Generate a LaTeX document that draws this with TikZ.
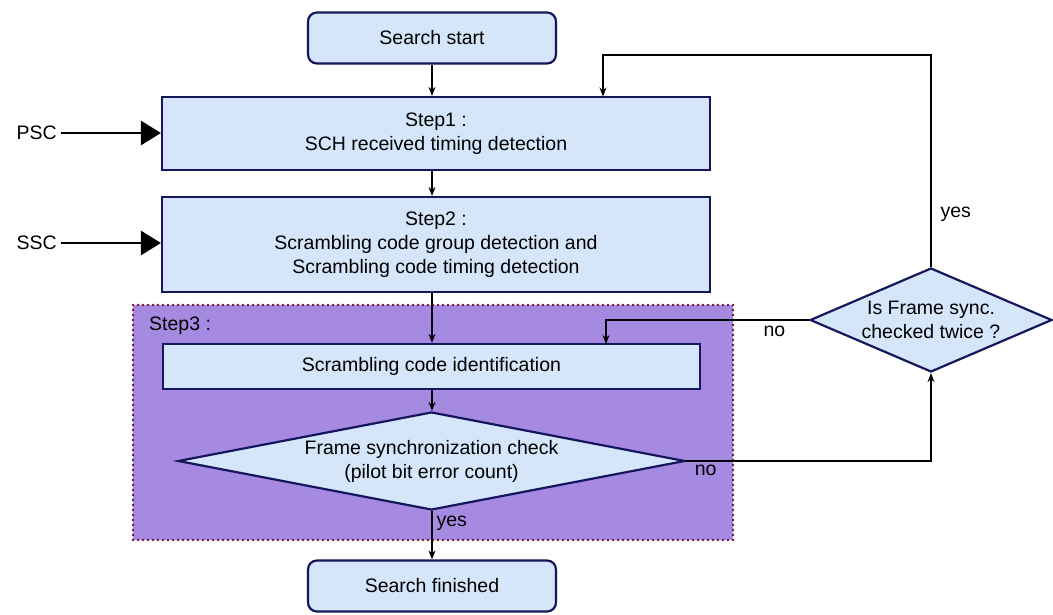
\documentclass[tikz,border=0pt]{standalone}
\usepackage{fontspec}
\setmainfont{Liberation Sans}
\usetikzlibrary{shapes.geometric,arrows.meta}
\definecolor{boxfill}{RGB}{214,230,250}
\definecolor{boxline}{RGB}{22,22,92}
\definecolor{stepfill}{RGB}{166,138,226}
\definecolor{stepline}{RGB}{110,15,55}
\begin{document}
\begin{tikzpicture}[x=1pt, y=-1pt,
        font=\fontsize{19.5}{24}\selectfont,
        process/.style={rectangle, draw=boxline, fill=boxfill, line width=2.2pt, align=center, inner sep=0pt},
        terminal/.style={process, rounded corners=9pt, minimum width=248pt, minimum height=51pt},
        decision/.style={diamond, draw=boxline, fill=boxfill, line width=2.2pt, align=center, inner sep=0pt},
        arrow/.style={-{Stealth[length=9pt,width=7pt]}, line width=1.2pt},
        input/.style={-{Triangle[length=20pt,width=24pt]}, line width=2.8pt},
        label/.style={inner sep=1pt}
    ]
        \useasboundingbox (0,0) rectangle (1053,615);

        % Step3 area
        \draw[stepline, fill=stepfill, line width=2.8pt, line cap=round, dash pattern=on 0pt off 5pt] (133,305) rectangle (733,540);
        \node[label, anchor=west] (step3) at (148,326) {Step3 :};

        % Search start / finished
        \node[terminal] (start) at (432,38) {Search start};
        \node[terminal] (finish) at (432,586) {Search finished};

        % Steps
        \node[process, minimum width=548pt, minimum height=73pt] (step1) at (436,133.5) {Step1 :\\SCH received timing detection};
        \node[process, minimum width=548pt, minimum height=95pt] (step2) at (436,244.5) {Step2 :\\Scrambling code group detection and\\Scrambling code timing detection};
        \node[process, minimum width=537pt, minimum height=45pt] (ident) at (431.5,366.5) {Scrambling code identification};

        % Decisions
        \node[decision, shape aspect=5.17, minimum width=507pt, minimum height=98pt] (frame) at (431.5,461) {Frame synchronization check\\(pilot bit error count)};
        \node[decision, shape aspect=2.33, minimum width=242pt, minimum height=104pt] (twice) at (931,320) {Is Frame sync.\\checked twice ?};

        % Inputs
        \node[label, anchor=east] (psc) at (58,133) {PSC};
        \node[label, anchor=east] (ssc) at (58,243) {SSC};
        \draw[input] (psc.east) ++(3,0) -- (step1.west |- psc.east);
        \draw[input] (ssc.east) ++(3,0) -- (step2.west |- ssc.east);

        % Main flow
        \draw[arrow] (start.south) -- (start.south |- step1.north);
        \draw[arrow] (step1.south -| start.south) -- (start.south |- step2.north);
        \draw[arrow] (step2.south -| start.south) -- (start.south |- ident.north);
        \draw[arrow] (ident.south -| start.south) -- (start.south |- frame.north);
        \draw[arrow] (frame.south -| start.south) -- node[label, pos=0.25, right=3pt] {yes} (finish.north);

        % Loops
        \coordinate (corner) at (twice.north |- 0,55);
        \draw[arrow] (frame.east) -- node[label, pos=0.08, below=2pt] {no} (twice.south |- frame.east) -- (twice.south);
        \draw[arrow] (twice.north) -- node[label, pos=0.25, right=8pt] {yes} (corner) -- (603,55) -- (603,96.5);
        \draw[arrow] (twice.west) -- node[label, pos=0.17, below=4pt] {no} (606,320) -- (606,344);
    \end{tikzpicture}
\end{document}
